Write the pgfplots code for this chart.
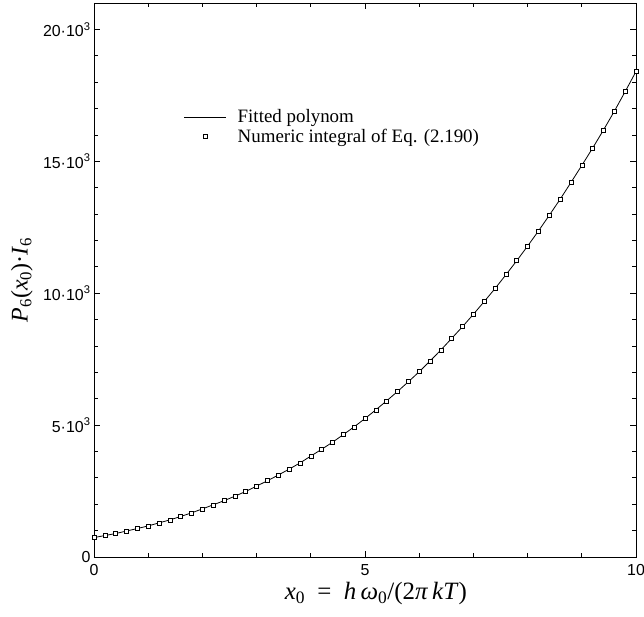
\documentclass[border=0pt]{standalone}
\usepackage{fontspec}
\setmainfont{Liberation Serif}
\newfontfamily\ticksfont{Liberation Sans}
\usepackage{pgfplots}
\usepackage{pgfplotstable}
\pgfplotsset{compat=1.18}
\pgfplotsset{
  mylineleg/.style={legend image code/.code={\draw[##1] (0bp,0bp) -- (42bp,0bp);}},
  mymarkleg/.style={legend image code/.code={\draw[mark repeat=2,mark phase=2,##1] plot coordinates {(0bp,0bp)(21bp,0bp)(42bp,0bp)};}},
}
\pgfplotstableread{
x y
0 737
0.2 813
0.4 889
0.6 985
0.8 1079
1.0 1179
1.2 1293
1.4 1407
1.6 1536
1.8 1673
2.0 1825
2.2 1977
2.4 2135
2.6 2305
2.8 2486
3.0 2688
3.2 2890
3.4 3106
3.6 3330
3.8 3565
4.0 3825
4.2 4083
4.4 4350
4.6 4638
4.8 4935
5.0 5247
5.2 5578
5.4 5920
5.6 6274
5.8 6642
6.0 7022
6.2 7429
6.4 7847
6.6 8289
6.8 8733
7.0 9201
7.2 9684
7.4 10178
7.6 10699
7.8 11231
8.0 11786
8.2 12357
8.4 12953
8.6 13560
8.8 14197
9.0 14843
9.2 15501
9.4 16185
9.6 16896
9.8 17642
10 18403
}\datatable
\begin{document}
\begin{tikzpicture}
\begin{axis}[
  at={(0,0)}, anchor=south west,
  scale only axis,
  width=542bp, height=554bp,
  xmin=0, xmax=10, ymin=0, ymax=21000,
  xtick={0,5,10}, ytick={0,5000,10000,15000,20000},
  yticklabels={0,5·10\textsuperscript{3},10·10\textsuperscript{3},15·10\textsuperscript{3},20·10\textsuperscript{3}},
  xticklabels={0,5,10},
  minor x tick num=4, minor y tick num=4,
  tick align=inside, tick pos=both,
  major tick length=6.5bp, minor tick length=4.5bp,
  axis line style={line width=0.9bp},
  every tick/.style={black, line width=0.8bp},
  ticklabel style={font=\ticksfont\fontsize{16}{19}\selectfont},
  xticklabel style={yshift=-4bp},
  /pgf/number format/assume math mode=true,
  scaled y ticks=false,
  xlabel={\textit{x}\textsubscript{0}\enspace=\enspace\textit{h}\,\textit{ω}\textsubscript{0}/(2\textit{π}\,\textit{kT})},
  ylabel={\textit{P}\textsubscript{6}(\textit{x}\textsubscript{0})·\textit{I}\textsubscript{6}},
  xlabel style={font=\fontsize{25}{30}\selectfont, at={(axis description cs:0.52,0)}, anchor=center, yshift=-37bp},
  ylabel style={font=\fontsize{24}{28}\selectfont, at={(axis description cs:0,0.5)}, anchor=center, yshift=72bp},
  legend style={draw=none, fill=none, at={(rel axis cs:0.16,0.815)}, anchor=north west,
    font=\fontsize{19}{23}\selectfont, row sep=1bp,
    /tikz/every odd column/.append style={column sep=9bp}},
  legend cell align=left,
]
\addplot[black, line width=0.8bp, no marks, mylineleg] table {\datatable};
\addlegendentry{Fitted polynom}
\addplot[only marks, mark=square*, mark options={fill=white, draw=black, line width=0.6bp}, mark size=2bp, mymarkleg] table {\datatable};
\addlegendentry{Numeric integral of Eq. (2.190)}
\end{axis}
\pgfresetboundingbox
\path[use as bounding box] (-94bp,-60bp) rectangle (550bp,557bp);
\end{tikzpicture}
\end{document}
